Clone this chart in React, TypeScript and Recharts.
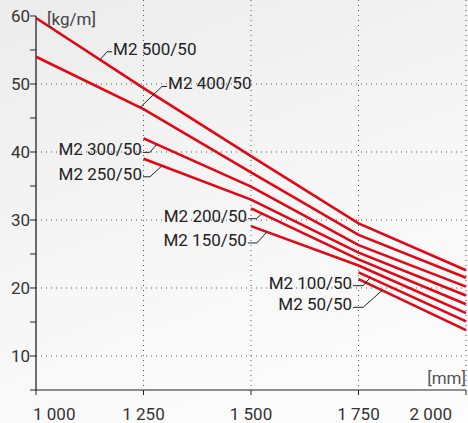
import React from "react";
import {
  CartesianGrid,
  Line,
  LineChart,
  ReferenceDot,
  ReferenceLine,
  XAxis,
  YAxis,
} from "recharts";

// chain width [mm]
const widths = [1000, 1250, 1500, 1750, 2000];

// weight [kg/m] per type, null = type not available at that width
const m500 = [59.7, 49.4, 39.4, 29.5, 22.6];
const m400 = [54.0, 46.3, 37.0, 27.8, 21.5];
const m300 = [null, 42.0, 34.9, 26.3, 20.2];
const m250 = [null, 39.0, 33.0, 25.2, 18.9];
const m200 = [null, null, 31.7, 24.2, 17.6];
const m150 = [null, null, 29.1, 23.3, 16.3];
const m100 = [null, null, null, 22.3, 15.1];
const m50 = [null, null, null, 21.3, 13.8];

const seriesNames = ["M2 500/50", "M2 400/50", "M2 300/50", "M2 250/50", "M2 200/50", "M2 150/50", "M2 100/50", "M2 50/50"];
const seriesValues = [m500, m400, m300, m250, m200, m150, m100, m50];

// where along the x axis each label's leader touches its line
const labelAt = [1149, 1242, 1281, 1293, 1526, 1537, 1777, 1805];

const xTicks = [1000, 1250, 1500, 1750, 2000];
const yTicks = [5, 10, 15, 20, 25, 30, 35, 40, 45, 50, 55, 60];

const RED = "#e30613";
const FONT = "Roboto, 'Noto Sans', sans-serif";

const data = widths.map((w, i) => {
  const row: Record<string, number | null> = { width: w };
  seriesNames.forEach((n, s) => {
    row[n] = seriesValues[s][i];
  });
  return row;
});

function valueAt(vals: (number | null)[], x: number) {
  for (let i = 0; i < widths.length - 1; i++) {
    const a = vals[i];
    const b = vals[i + 1];
    if (a == null || b == null) continue;
    if (x >= widths[i] && x <= widths[i + 1]) {
      const t = (x - widths[i]) / (widths[i + 1] - widths[i]);
      return a + (b - a) * t;
    }
  }
  return 0;
}

// leader geometry: [dx, dy] of elbow, then horizontal run, text side
const leaders: [number, number, number, "right" | "left"][] = [
  [7, -8, 5, "right"],
  [22, -21, 5, "right"],
  [-7, 8, 7, "left"],
  [-12, 11, 7, "left"],
  [-6, 5, 8, "left"],
  [-10, 11, 9, "left"],
  [-7, 8, 10, "left"],
  [-19, 17, 10, "left"],
];

function Leader(props: any) {
  const { cx, cy, idx } = props;
  const [dx, dy, run, side] = leaders[idx];
  const ex = cx + dx;
  const ey = cy + dy;
  const hx = side === "right" ? ex + run : ex - run;
  const tx = side === "right" ? hx + 1 : hx - 1;
  return (
    <g>
      <polyline
        points={`${cx},${cy} ${ex},${ey} ${hx},${ey}`}
        fill="none"
        stroke="#222"
        strokeWidth={1}
      />
      <text
        x={tx}
        y={ey + 3}
        textAnchor={side === "right" ? "start" : "end"}
        fontSize={17}
        fontFamily={FONT}
        fill="#222"
      >
        {seriesNames[idx]}
      </text>
    </g>
  );
}

function XTick(props: any) {
  const { x, y, payload } = props;
  const v = payload.value as number;
  const anchor = v === 1000 ? "start" : v === 2000 ? "end" : "middle";
  const shift = v === 1000 ? -3 : 0;
  const txt = v.toLocaleString("en-US").replace(",", " ");
  return (
    <text x={x + shift} y={y} dy="0.71em" textAnchor={anchor} fontSize={17} fontFamily={FONT} fill="#333">
      {txt}
    </text>
  );
}

export default function App() {
  return (
    <div
      style={{
        position: "absolute",
        left: 0,
        top: 0,
        width: 468,
        height: 423,
        background: "linear-gradient(160deg, #ececec 0%, #f7f7f7 55%, #fdfdfd 100%)",
        fontFamily: FONT,
      }}
    >
      <LineChart width={468} height={423} data={data} margin={{ top: 0, right: 2, bottom: 0, left: 0 }}>
        <CartesianGrid
          stroke="#555"
          strokeDasharray="1 4"
          horizontalValues={[10, 20, 30, 40, 50]}
          verticalValues={[1250, 1500, 1750, 2000]}
        />
        <XAxis
          dataKey="width"
          type="number"
          domain={[1000, 2000]}
          ticks={xTicks}
          height={33}
          stroke="#222"
          tickSize={5}
          tickMargin={13}
          tick={<XTick />}
        />
        <YAxis
          type="number"
          domain={[5, 62.35]}
          ticks={yTicks}
          width={36}
          axisLine={false}
          stroke="#222"
          tickSize={6}
          tickMargin={0}
          tickFormatter={(v: number) => (v % 10 === 0 ? String(v) : "")}
          tick={{ fontSize: 17, fontFamily: FONT, fill: "#333" }}
        />
        <ReferenceLine
          segment={[
            { x: 1000, y: 5 },
            { x: 1000, y: 60 },
          ]}
          stroke="#222"
          strokeWidth={1.3}
        />
        {seriesNames.map((n) => (
          <Line
            key={n}
            dataKey={n}
            type="linear"
            stroke={RED}
            strokeWidth={2.6}
            dot={false}
            activeDot={false}
            isAnimationActive={false}
          />
        ))}
        {seriesNames.map((n, i) => (
          <ReferenceDot
            key={"lbl" + n}
            x={labelAt[i]}
            y={valueAt(seriesValues[i], labelAt[i])}
            r={0}
            ifOverflow="visible"
            shape={(p: any) => <Leader {...p} idx={i} />}
          />
        ))}
      </LineChart>
      <div style={{ position: "absolute", left: 47, top: 9, fontSize: 17, color: "#444", lineHeight: "20px" }}>[kg/m]</div>
      <div style={{ position: "absolute", right: 2, top: 368, fontSize: 17, color: "#555", lineHeight: "20px" }}>[mm]</div>
    </div>
  );
}
